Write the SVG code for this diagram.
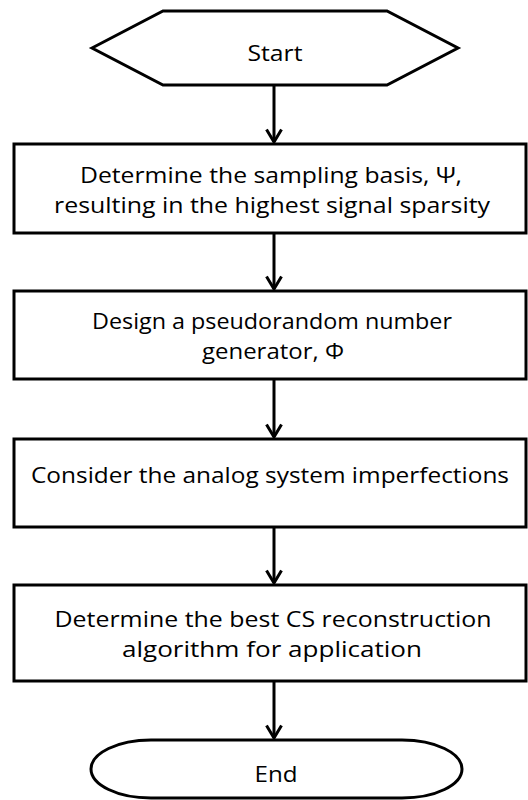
<svg xmlns="http://www.w3.org/2000/svg" width="528" height="800" viewBox="0 0 528 800">
<style>
.shape{fill:#fff;stroke:#000;stroke-width:3}
.t{font-family:"Open Sans","Noto Sans","Liberation Sans",sans-serif;font-size:22px;fill:#000;text-anchor:middle}
.c{fill:none;stroke:#000;stroke-width:3}
</style>
<defs>
<marker id="ah" viewBox="-9 -14 18 16" markerWidth="18" markerHeight="16" refX="0" refY="0" markerUnits="userSpaceOnUse" orient="0">
<path d="M-7.5,-12.5 L0,0 L7.5,-12.5" fill="none" stroke="#000" stroke-width="3"/>
</marker>
</defs>
<rect width="528" height="800" fill="#fff"/>
<g id="connectors">
<line class="c" x1="274" y1="85" x2="274" y2="142" marker-end="url(#ah)"/>
<line class="c" x1="274" y1="233" x2="274" y2="289" marker-end="url(#ah)"/>
<line class="c" x1="274" y1="379" x2="274" y2="437" marker-end="url(#ah)"/>
<line class="c" x1="274" y1="527" x2="274" y2="583" marker-end="url(#ah)"/>
<line class="c" x1="274" y1="681" x2="274" y2="738" marker-end="url(#ah)"/>
</g>
<g id="start">
<polygon class="shape" points="92,48 163,11 387,11 458,48 387,85 163,85"/>
<text class="t" x="275" y="61" textLength="55" lengthAdjust="spacingAndGlyphs">Start</text>
</g>
<g id="step1">
<rect class="shape" x="14" y="144" width="512" height="89"/>
<text class="t" x="271" y="183" textLength="382" lengthAdjust="spacingAndGlyphs">Determine the sampling basis, Ψ,</text>
<text class="t" x="272" y="213" textLength="436" lengthAdjust="spacingAndGlyphs">resulting in the highest signal sparsity</text>
</g>
<g id="step2">
<rect class="shape" x="14" y="291" width="512" height="88"/>
<text class="t" x="272" y="329" textLength="360" lengthAdjust="spacingAndGlyphs">Design a pseudorandom number</text>
<text class="t" x="273" y="359" textLength="142" lengthAdjust="spacingAndGlyphs">generator, Φ</text>
</g>
<g id="step3">
<rect class="shape" x="14" y="439" width="512" height="88"/>
<text class="t" x="270" y="483" textLength="478" lengthAdjust="spacingAndGlyphs">Consider the analog system imperfections</text>
</g>
<g id="step4">
<rect class="shape" x="14" y="585" width="512" height="96"/>
<text class="t" x="273" y="627" textLength="437" lengthAdjust="spacingAndGlyphs">Determine the best CS reconstruction</text>
<text class="t" x="272" y="657" textLength="300" lengthAdjust="spacingAndGlyphs">algorithm for application</text>
</g>
<g id="end">
<rect class="shape" x="91" y="740" width="371" height="58" rx="60" ry="29"/>
<text class="t" x="276" y="782" textLength="43" lengthAdjust="spacingAndGlyphs">End</text>
</g>
</svg>
